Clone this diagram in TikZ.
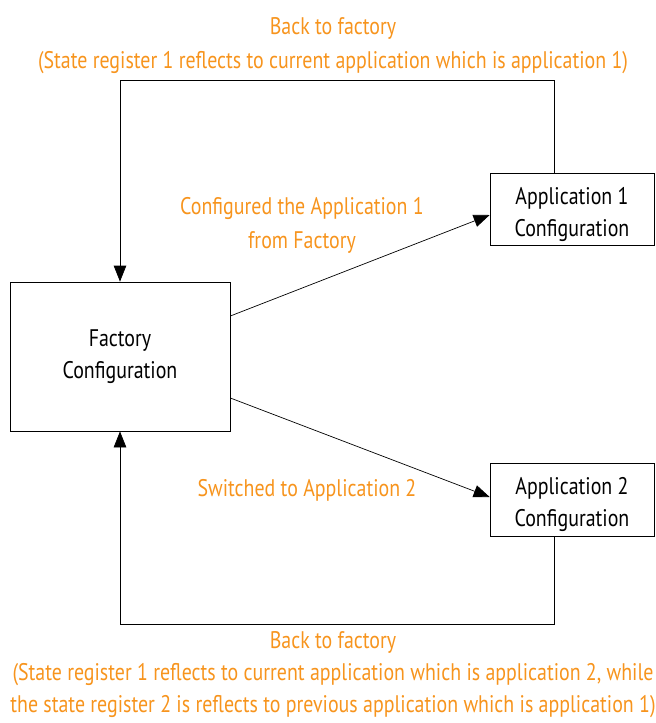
\documentclass[tikz,border=0pt]{standalone}
\usepackage{fontspec}
\setmainfont{PT Sans}[FakeStretch=0.83]
\usetikzlibrary{arrows.meta}
\definecolor{lblorange}{RGB}{247,148,29}
\newcommand{\lowered}[1]{\raisebox{-5pt}[\height][\depth]{\begin{tabular}{@{}c@{}}#1\end{tabular}}}
\begin{document}
\begin{tikzpicture}[x=1pt,y=-1pt,
  box/.style={draw, line width=0.7pt, inner sep=0pt, align=center, font=\fontsize{24}{32}\selectfont},
  appbox/.style={draw, line width=0.7pt, inner sep=0pt, minimum width=164pt, font=\fontsize{24}{32}\selectfont},
  lbl/.style={text=lblorange, align=center, inner sep=0pt, font=\fontsize{24}{34}\selectfont},
  conn/.style={line width=0.7pt, -{Triangle[length=16pt,width=12.5pt]}}]
\useasboundingbox (0,0) rectangle (656,723);
\node[box, minimum width=220pt, minimum height=149pt] (factory) at (120,356.5) {Factory\\Configuration};
\node[appbox, minimum height=72pt] (app1) at (572,209) {\lowered{Application 1\\Configuration}};
\node[appbox, minimum height=73pt] (app2) at (572,499.5) {\lowered{Application 2\\Configuration}};
\coordinate (t1) at (554,80);
\coordinate (b1) at (554,624);
\draw[conn] (app1.north -| t1) -- (t1) -| (factory.north);
\draw[conn] (app2.south -| b1) -- (b1) -| (factory.south);
\draw[conn] ([yshift=40.5pt]factory.east) -- ([yshift=-6pt]app1.west);
\draw[conn] ([yshift=-41.5pt]factory.east) -- ([yshift=2.5pt]app2.west);
\node[lbl] (ltop) at (333,45.5) {Back to factory\\(State register 1 reflects to current application which is application 1)};
\node[lbl] (lcfg) at (302,225.5) {Configured the Application 1\\from Factory};
\node[lbl] (lsw) at (307,490) {Switched to Application 2};
\node[lbl, font=\fontsize{24}{32}\selectfont] (lbot) at (333,675) {Back to factory\\(State register 1 reflects to current application which is application 2, while\\the state register 2 is reflects to previous application which is application 1)};
\end{tikzpicture}
\end{document}
